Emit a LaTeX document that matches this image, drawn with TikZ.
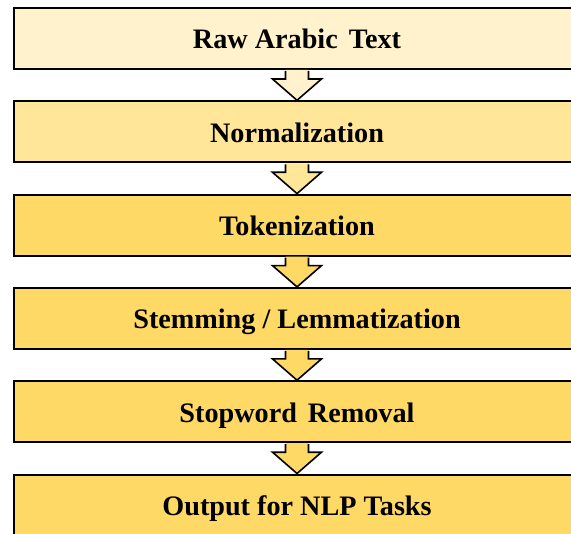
\documentclass[tikz,border=0pt]{standalone}
\usepackage{fontspec}
\setmainfont{Liberation Serif}
\usetikzlibrary{calc}

\definecolor{goldA}{HTML}{FFF2CC}
\definecolor{goldB}{HTML}{FFE699}
\definecolor{goldC}{HTML}{FFD966}

\tikzset{
  stage/.style={draw=black, line width=2bp, rectangle, minimum width=566bp,
    minimum height=61bp, inner sep=0pt, text height=21bp, text depth=0pt,
    font=\fontsize{28.3}{32}\selectfont\bfseries, text=black},
  flowshaft/.style={line width=1.6bp, draw=black, line join=miter},
}

% block arrow from the bottom of #1 to the top of #2, filled with #3
\newcommand{\flowarrow}[3]{%
  \fill[#3] let \p1=(#1.south), \p2=(#2.north) in
    (\x1-11.5bp,\y1) -- (\x1-11.5bp,\y1-9bp) -- (\x1-24.5bp,\y1-9bp)
    -- (\x1,\y2) -- (\x1+24.5bp,\y1-9bp) -- (\x1+11.5bp,\y1-9bp)
    -- (\x1+11.5bp,\y1) -- cycle;
  \draw[flowshaft] let \p1=(#1.south), \p2=(#2.north) in
    (\x1-11.5bp,\y1-1bp) -- (\x1-11.5bp,\y1-9bp) -- (\x1-24.5bp,\y1-9bp)
    -- (\x1,\y2) -- (\x1+24.5bp,\y1-9bp) -- (\x1+11.5bp,\y1-9bp)
    -- (\x1+11.5bp,\y1-1bp);
}

\begin{document}
\begin{tikzpicture}[x=1bp,y=-1bp]
  \useasboundingbox (0,0) rectangle (571,534);
  \clip (0,0) rectangle (571,534);
  \fill[white] (0,0) rectangle (571,534);

  \node[stage, fill=goldA] (raw)  at (297,38.5)  {Raw Arabic\hspace{4bp} Text};
  \node[stage, fill=goldB] (norm) at (297,131.8) {Normalization};
  \node[stage, fill=goldC] (tok)  at (297,225.1) {Tokenization};
  \node[stage, fill=goldC] (stem) at (297,318.4) {Stemming / Lemmatization};
  \node[stage, fill=goldC] (stop) at (297,411.7) {Stopword\hspace{4bp} Removal};
  \node[stage, fill=goldC] (out)  at (297,505)   {Output for NLP Tasks};

  \flowarrow{raw}{norm}{goldA}
  \flowarrow{norm}{tok}{goldB}
  \flowarrow{tok}{stem}{goldC}
  \flowarrow{stem}{stop}{goldC}
  \flowarrow{stop}{out}{goldC}
\end{tikzpicture}
\end{document}
